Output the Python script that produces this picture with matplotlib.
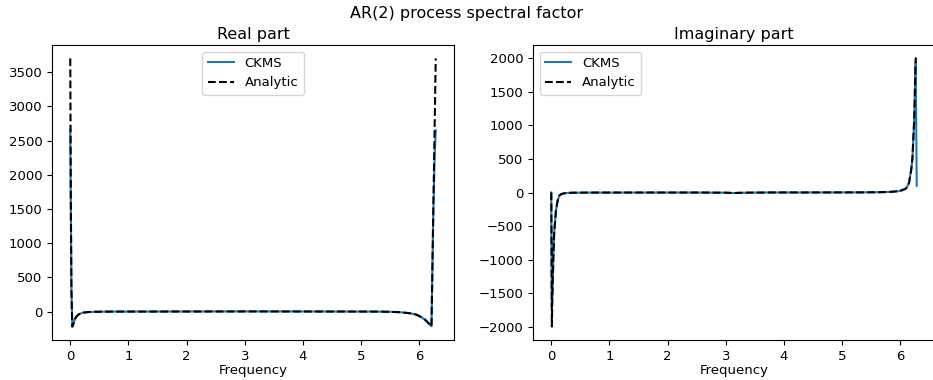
import matplotlib
matplotlib.use("Agg")
import matplotlib.pyplot as plt

# Frequency grid (radians) with the samples used for both panels
freq = [0.0, 0.01, 0.02, 0.035, 0.05, 0.08, 0.11, 0.14, 0.17, 0.22, 0.3, 0.4,
        0.55, 0.75, 1.0, 1.5, 2.0, 2.5, 3.0, 3.14, 3.3, 3.8, 4.3, 4.8, 5.3,
        5.5, 5.67, 5.84, 5.95, 6.02, 6.1, 6.15, 6.19, 6.21, 6.24, 6.265, 6.283]

# Real part of the spectral factor
real_analytic = [3700, 1500, 300, -220, -190, -110, -70, -45, -30, -16, -8, -4,
                 -2, -1, -0.5, 0, 0.5, 1, 1.5, 1.6, 1.5, 1, 0.5, 0, -1,
                 -4, -10, -25, -45, -75, -120, -160, -200, -215, 1394, 2735, 3700]
real_ckms = [2650, 1500, 300, -220, -190, -110, -70, -45, -30, -16, -8, -4,
             -2, -1, -0.5, 0, 0.5, 1, 1.5, 1.6, 1.5, 1, 0.5, 0, -1,
             -4, -10, -25, -45, -75, -120, -160, -200, -215, 1394, 2300, 2650]

# Imaginary part of the spectral factor
imag_analytic = [0, -2000, -1500, -1000, -600, -270, -120, -45, -25, -12, -5, -3,
                 -2, -1, -1, -0.5, -0.5, -0.5, -3, -8, -3, 0.5, 0.5, 1, 2,
                 3, 5, 10, 18, 30, 60, 140, 350, 520, 1100, 2000, 2000]
imag_ckms = [0, -1700, -1500, -1000, -600, -270, -120, -45, -25, -12, -5, -3,
             -2, -1, -1, -0.5, -0.5, -0.5, -3, -8, -3, 0.5, 0.5, 1, 2,
             3, 5, 10, 18, 30, 60, 140, 350, 520, 1100, 1950, 100]

plt.rcParams.update({
    "xtick.labelsize": 9.5,
    "ytick.labelsize": 9.5,
    "axes.labelsize": 9.5,
    "axes.titlesize": 11.5,
    "legend.fontsize": 9.5,
})

fig = plt.figure(figsize=(9.33, 3.8), dpi=100)
ax1 = fig.add_axes([52 / 933, 40 / 380, 402 / 933, 295 / 380])
ax2 = fig.add_axes([533 / 933, 40 / 380, 402 / 933, 295 / 380])

ax1.plot(freq, real_ckms, color="C0", label="CKMS")
ax1.plot(freq, real_analytic, "k--", label="Analytic")
ax1.set_title("Real part", pad=4)
ax1.set_xlabel("Frequency", labelpad=1)
ax1.legend(loc="upper center")

ax2.plot(freq, imag_ckms, color="C0", label="CKMS")
ax2.plot(freq, imag_analytic, "k--", label="Analytic")
ax2.set_title("Imaginary part", pad=4)
ax2.set_xlabel("Frequency", labelpad=1)
ax2.legend(loc="upper left")

fig.suptitle("AR(2) process spectral factor", y=0.985, fontsize=11.5)

fig.savefig("out.png", dpi=100)
